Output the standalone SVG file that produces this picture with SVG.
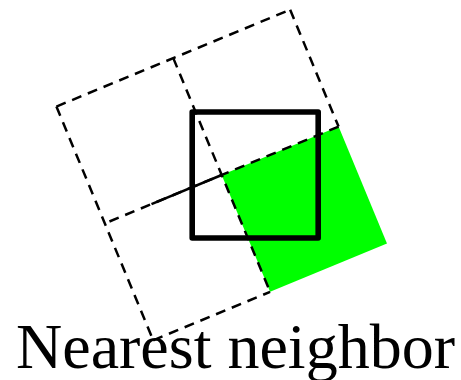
<svg xmlns="http://www.w3.org/2000/svg" width="461" height="380" viewBox="0 0 461 380">
  <style>
    .dash { fill: none; stroke: #000; stroke-width: 2.5; stroke-dasharray: 10 7; }
    .solid { fill: none; stroke: #000; stroke-width: 2.5; }
    .frame { fill: none; stroke: #000; stroke-width: 5.6; stroke-linejoin: round; }
    .cell { fill: #00ff00; }
    .label { font-family: "Liberation Serif", "Times New Roman", serif; font-size: 64px; fill: #000; }
  </style>
  <rect width="461" height="380" fill="#fff"/>
  <g id="grid" transform="translate(221.7,175) rotate(-22.5)">
    <g id="nearest-cell">
      <rect class="cell" x="0" y="0" width="126.5" height="126.5"/>
    </g>
    <g id="connectors">
      <line class="dash" x1="-126.5" y1="-126.5" x2="126.5" y2="-126.5"/>
      <line class="dash" x1="-126.5" y1="-126.5" x2="-126.5" y2="126.5"/>
      <line class="dash" x1="126.5" y1="-126.5" x2="126.5" y2="0"/>
      <line class="dash" x1="-126.5" y1="126.5" x2="0" y2="126.5"/>
      <line class="dash" x1="0" y1="-126.5" x2="0" y2="126.5"/>
      <line class="dash" x1="126.5" y1="0" x2="-126.5" y2="0"/>
      <line class="solid" x1="0" y1="0" x2="-76" y2="0"/>
    </g>
  </g>
  <g id="target-pixel">
    <rect class="frame" x="192.2" y="112" width="126" height="126"/>
  </g>
  <g id="caption">
    <text class="label" x="16" y="368">Nearest neighbor</text>
  </g>
</svg>
